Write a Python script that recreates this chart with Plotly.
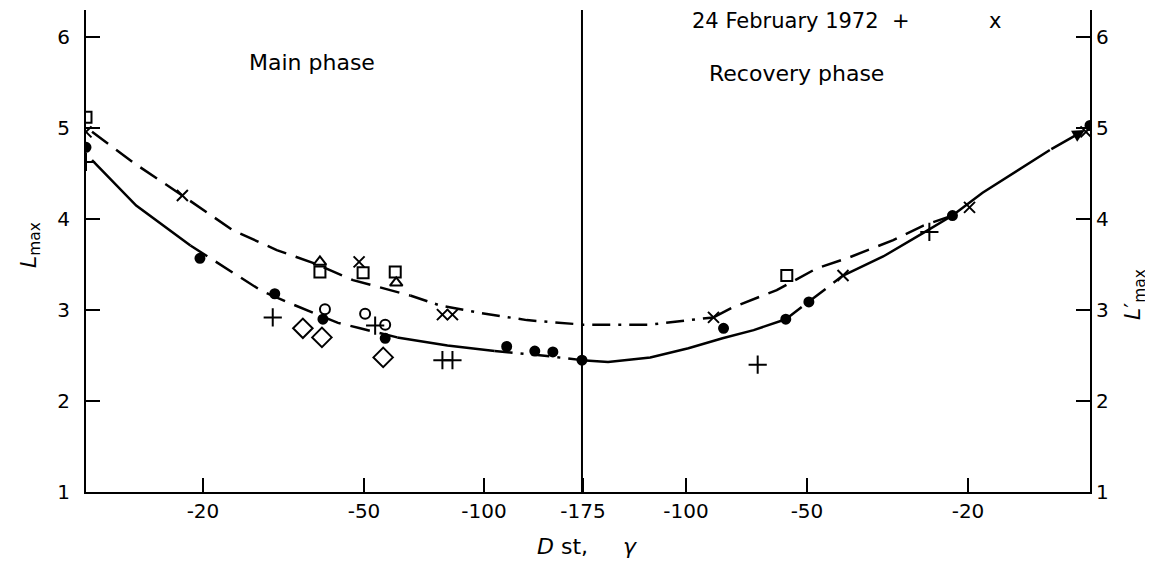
import plotly.graph_objects as go

# x is the position along the storm-time axis (0 = left edge, 100 = right edge)
tick_pos = [11.65, 27.69, 39.64, 49.5, 59.76, 71.81, 87.85]
tick_text = ["-20", "-50", "-100", "-175", "-100", "-50", "-20"]
y_ticks = [1, 2, 3, 4, 5, 6]

# fitted curves
lower_u = [0.6, 5.0, 10.4, 13.0, 17.5, 20.0, 22.6, 25.1, 27.3, 31.0, 36.0, 40.7,
           44.7, 49.4, 52.0, 56.2, 60.0, 63.4, 66.5, 69.7, 72.0, 75.4, 79.4, 83.4,
           86.3, 89.3, 96.0]
lower_l = [4.65, 4.15, 3.71, 3.53, 3.21, 3.09, 2.97, 2.86, 2.80, 2.70, 2.61, 2.55,
           2.51, 2.45, 2.43, 2.48, 2.58, 2.69, 2.78, 2.90, 3.09, 3.38, 3.59, 3.85,
           4.04, 4.29, 4.76]
upper_u = [0.6, 5.0, 9.6, 14.6, 19.0, 22.6, 26.6, 29.6, 32.3, 35.3, 39.2, 43.9,
           49.5, 56.2, 62.5, 64.4, 68.8, 72.8, 75.8, 80.4, 83.4, 86.3]
upper_l = [4.96, 4.60, 4.26, 3.88, 3.66, 3.52, 3.33, 3.24, 3.16, 3.05, 2.97, 2.89,
           2.84, 2.84, 2.92, 3.03, 3.22, 3.46, 3.57, 3.77, 3.93, 4.04]

# (first index, last index, dash) for the hand-drawn line styles
long_dash = "20px,10px"
dash_dot = "18px,8px,3px,8px"
lower_style = [(0, 2, "solid"), (2, 9, long_dash), (9, 11, "solid"), (11, 13, dash_dot),
               (13, 19, "solid"), (19, 21, long_dash), (21, 26, "solid")]
upper_style = [(0, 8, long_dash), (8, 14, dash_dot), (14, 21, long_dash)]

# observations
dot_u = [0, 11.35, 18.8, 23.6, 29.8, 41.9, 44.7, 46.5, 49.4, 63.5, 69.7, 72.0, 86.3, 100]
dot_l = [4.79, 3.57, 3.18, 2.90, 2.69, 2.60, 2.55, 2.54, 2.45, 2.80, 2.90, 3.09, 4.04, 5.03]
plus_u = [0, 18.6, 28.8, 35.5, 36.5, 66.9, 84.0]
plus_l = [4.63, 2.92, 2.83, 2.45, 2.45, 2.40, 3.86]
cross_u = [0, 9.6, 27.2, 35.5, 36.5, 62.5, 75.4, 88.0, 99.6]
cross_l = [4.96, 4.26, 3.53, 2.95, 2.95, 2.92, 3.38, 4.13, 4.96]
square_u = [0, 23.3, 27.6, 30.8, 69.8]
square_l = [5.12, 3.42, 3.41, 3.42, 3.38]
tri_u = [23.3, 30.9]
tri_l = [3.53, 3.30]
circ_u = [23.8, 27.8, 29.8]
circ_l = [3.01, 2.96, 2.84]
diam_u = [21.6, 23.5, 29.6]
diam_l = [2.80, 2.70, 2.48]

ink = "black"
font = "DejaVu Sans"

fig = go.Figure()

for u, l, styles in [(lower_u, lower_l, lower_style), (upper_u, upper_l, upper_style)]:
    for a, b, dash in styles:
        fig.add_trace(go.Scatter(x=u[a:b + 1], y=l[a:b + 1], mode="lines",
                                 line=dict(color=ink, width=2.5, dash=dash),
                                 showlegend=False, hoverinfo="skip"))

# phase boundary at Dst = -175
fig.add_vline(x=49.4, line=dict(color=ink, width=2))

marks = [
    (dot_u, dot_l, "circle", 9),
    (plus_u, plus_l, "cross-thin-open", 13),
    (cross_u, cross_l, "x-thin-open", 11),
    (square_u, square_l, "square-open", 11),
    (tri_u, tri_l, "triangle-up-open", 11),
    (circ_u, circ_l, "circle-open", 10),
    (diam_u, diam_l, "diamond-open", 15),
]
for u, l, sym, size in marks:
    fig.add_trace(go.Scatter(x=u, y=l, mode="markers",
                             marker=dict(symbol=sym, size=size, color=ink,
                                         line=dict(color=ink, width=2)),
                             showlegend=False))

# arrow head at the end of the recovery curve
fig.add_annotation(x=99.5, y=4.98, ax=96.0, ay=4.76, xref="x", yref="y",
                   axref="x", ayref="y", showarrow=True, arrowhead=2,
                   arrowsize=1, arrowwidth=2.5, arrowcolor=ink, text="")

txt = dict(family=font, size=22, color=ink)
labels = [
    (22.5, 0.892, "x", "Main phase", 22),
    (70.8, 0.869, "x", "Recovery phase", 22),
    (71.2, 0.977, "x", "24 February 1972  +", 21),
    (90.5, 0.977, "x", "x", 21),
    (49.9, -0.114, "x", "<i>D</i> st,     <i>γ</i>", 22),
]
for x, y, xref, text, size in labels:
    fig.add_annotation(x=x, y=y, xref=xref, yref="paper", text=text,
                       xanchor="center", yanchor="middle", showarrow=False,
                       font=dict(family=font, size=size, color=ink))
for x, y, text in [(-0.056, 0.512, "<i>L</i><sub>max</sub>"),
                   (1.045, 0.409, "<i>L</i>\u2032<sub>max</sub>")]:
    fig.add_annotation(x=x, y=y, xref="paper", yref="paper", text=text, textangle=-90,
                       xanchor="center", yanchor="middle", showarrow=False, font=txt)

axis_common = dict(showline=True, linecolor=ink, linewidth=2, ticks="inside",
                   ticklen=14, tickwidth=2, tickcolor=ink, showgrid=False,
                   zeroline=False, tickfont=dict(family=font, size=20, color=ink))

fig.update_layout(
    width=1145, height=565,
    margin=dict(l=78, r=63, t=2, b=81),
    plot_bgcolor="white", paper_bgcolor="white",
    showlegend=False,
    xaxis=dict(range=[0, 100], tickvals=tick_pos, ticktext=tick_text, **axis_common),
    yaxis=dict(range=[1, 6.3], tickvals=y_ticks, ticklabelstandoff=10, **axis_common),
    yaxis2=dict(range=[1, 6.3], tickvals=y_ticks, overlaying="y", side="right",
                **axis_common),
)
# invisible trace so the right axis is drawn
fig.add_trace(go.Scatter(x=[0], y=[1], yaxis="y2", mode="markers",
                         marker=dict(opacity=0), showlegend=False, hoverinfo="skip"))

fig.write_html("out.html")
